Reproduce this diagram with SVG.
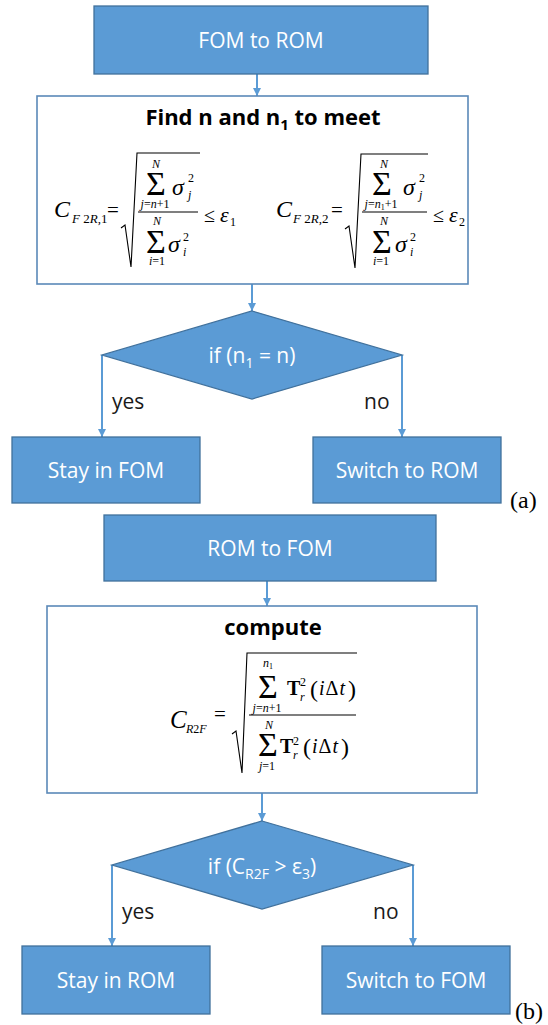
<svg xmlns="http://www.w3.org/2000/svg" width="548" height="1025" viewBox="0 0 548 1025">
  <defs>
    <marker id="ah" markerUnits="userSpaceOnUse" markerWidth="9" markerHeight="8" refX="8" refY="4" orient="auto">
      <path d="M0,0 L8,4 L0,8 z" fill="#5B9BD5"/>
    </marker>
    <style>
      .box { fill: #5B9BD5; stroke: #41719C; stroke-width: 1.3; }
      .frame { fill: #ffffff; stroke: #5B89B8; stroke-width: 1.6; }
      .lbl { font-family: "Open Sans", "Liberation Sans", sans-serif; font-size: 21px; fill: #ffffff; text-anchor: middle; }
      .head { font-family: "Open Sans", "Liberation Sans", sans-serif; font-size: 22px; font-weight: bold; fill: #000000; text-anchor: middle; }
      .tag { font-family: "Open Sans", "Liberation Sans", sans-serif; font-size: 21px; fill: #1a1a1a; }
      .edge { stroke: #5B9BD5; stroke-width: 2; fill: none; }
      .arrow { marker-end: url(#ah); }
      .m { font-family: "Liberation Serif", "Times New Roman", serif; fill: #000000; }
      .it { font-style: italic; }
      .mid { text-anchor: middle; }
      .sum { font-family: "Liberation Serif", "Times New Roman", serif; font-size: 34px; text-anchor: middle; fill: #000000; }
      .rad { stroke: #000000; stroke-width: 1.1; fill: none; stroke-linejoin: miter; }
      .bar { stroke: #000000; stroke-width: 1.1; }
      .panel { font-family: "Liberation Serif", "Times New Roman", serif; font-size: 24px; fill: #000000; }
    </style>
  </defs>

  <!-- connectors -->
  <g id="connectors">
    <line class="edge arrow" x1="257" y1="74" x2="257" y2="96"/>
    <line class="edge arrow" x1="252" y1="284" x2="252" y2="311"/>
    <polyline class="edge arrow" points="102,355 102,437"/>
    <polyline class="edge arrow" points="402,355 402,437"/>
    <line class="edge arrow" x1="267" y1="581" x2="267" y2="606"/>
    <line class="edge arrow" x1="262" y1="793" x2="262" y2="821"/>
    <polyline class="edge arrow" points="112,865 112,946"/>
    <polyline class="edge arrow" points="413,865 413,946"/>
  </g>

  <!-- (a) full order model to reduced order model -->
  <g id="fom-to-rom">
    <rect class="box" x="94" y="6" width="334" height="68"/>
    <text class="lbl" x="261" y="48">FOM to ROM</text>
  </g>

  <g id="find-n">
    <rect class="frame" x="37" y="96" width="431" height="188"/>
    <text class="head" x="263" y="125">Find n and n<tspan font-size="15" dy="5">1</tspan><tspan dy="-5"> to meet</tspan></text>

    <!-- C_F2R,1 criterion -->
    <text class="m it" x="54" y="217" font-size="24">C</text>
    <text class="m" x="72" y="223" font-size="13"><tspan class="it">F</tspan> 2<tspan class="it">R</tspan>,1</text>
    <text class="m" x="107" y="217" font-size="21">=</text>
    <path class="rad" d="M121,228 L125,225 L131,267 L137,153 L200,153"/>
    <line class="bar" x1="138" y1="212" x2="198" y2="212"/>
    <text class="m it mid" x="156" y="168" font-size="12">N</text>
    <text class="sum" x="156" y="195">Σ</text>
    <text class="m it mid" x="155" y="208" font-size="12">j<tspan font-style="normal">=</tspan>n<tspan font-style="normal">+1</tspan></text>
    <text class="m it" x="172" y="195" font-size="24">σ</text>
    <text class="m" x="188" y="182" font-size="12">2</text>
    <text class="m it" x="188" y="199" font-size="12">j</text>
    <text class="m it mid" x="157" y="225" font-size="12">N</text>
    <text class="sum" x="156" y="253">Σ</text>
    <text class="m it mid" x="157" y="265" font-size="12">i<tspan font-style="normal">=1</tspan></text>
    <text class="m it" x="168" y="252" font-size="24">σ</text>
    <text class="m" x="183" y="241" font-size="12">2</text>
    <text class="m it" x="183" y="256" font-size="12">i</text>
    <text class="m" x="204" y="222" font-size="20">≤</text>
    <text class="m it" x="220" y="222" font-size="22">ε</text>
    <text class="m" x="230" y="226" font-size="12">1</text>

    <!-- C_F2R,2 criterion -->
    <text class="m it" x="276" y="217" font-size="24">C</text>
    <text class="m" x="293" y="223" font-size="13"><tspan class="it">F</tspan> 2<tspan class="it">R</tspan>,2</text>
    <text class="m" x="331" y="217" font-size="21">=</text>
    <path class="rad" d="M345,229 L349,226 L355,268 L361,154 L428,154"/>
    <line class="bar" x1="362" y1="212" x2="427" y2="212"/>
    <text class="m it mid" x="384" y="168" font-size="12">N</text>
    <text class="sum" x="382" y="195">Σ</text>
    <text class="m it mid" x="381" y="208" font-size="12">j<tspan font-style="normal">=</tspan>n<tspan font-style="normal" font-size="8" dy="2">1</tspan><tspan font-style="normal" dy="-2">+1</tspan></text>
    <text class="m it" x="403" y="195" font-size="24">σ</text>
    <text class="m" x="419" y="182" font-size="12">2</text>
    <text class="m it" x="419" y="199" font-size="12">j</text>
    <text class="m it mid" x="384" y="225" font-size="12">N</text>
    <text class="sum" x="382" y="253">Σ</text>
    <text class="m it mid" x="381" y="265" font-size="12">i<tspan font-style="normal">=1</tspan></text>
    <text class="m it" x="395" y="252" font-size="24">σ</text>
    <text class="m" x="410" y="241" font-size="12">2</text>
    <text class="m it" x="410" y="256" font-size="12">i</text>
    <text class="m" x="433" y="222" font-size="20">≤</text>
    <text class="m it" x="449" y="222" font-size="22">ε</text>
    <text class="m" x="459" y="226" font-size="12">2</text>
  </g>

  <g id="check-a">
    <polygon class="box" points="252,311 402,355 252,399 102,355"/>
    <text class="lbl" x="252" y="363" font-size="20">if (n<tspan font-size="14" dy="5">1</tspan><tspan dy="-5"> = n)</tspan></text>
  </g>
  <text class="tag" x="112" y="409">yes</text>
  <text class="tag" x="364" y="409">no</text>

  <g id="stay-fom">
    <rect class="box" x="12" y="437" width="188" height="66"/>
    <text class="lbl" x="106" y="478">Stay in FOM</text>
  </g>
  <g id="switch-rom">
    <rect class="box" x="313" y="437" width="188" height="66"/>
    <text class="lbl" x="407" y="478">Switch to ROM</text>
  </g>
  <text class="panel" x="510" y="508">(a)</text>

  <!-- (b) reduced order model back to full order model -->
  <g id="rom-to-fom">
    <rect class="box" x="104" y="515" width="332" height="66"/>
    <text class="lbl" x="270" y="556">ROM to FOM</text>
  </g>

  <g id="compute">
    <rect class="frame" x="47" y="606" width="430" height="187"/>
    <text class="head" x="273" y="635">compute</text>

    <text class="m it" x="170" y="728" font-size="25">C</text>
    <text class="m it" x="186" y="733" font-size="12">R<tspan font-style="normal">2</tspan>F</text>
    <text class="m" x="214" y="721" font-size="21">=</text>
    <path class="rad" d="M232,734 L236,731 L242,773 L247,653 L357,653"/>
    <line class="bar" x1="249" y1="715" x2="356" y2="715"/>

    <text class="m it" x="263" y="667" font-size="12">n<tspan font-style="normal" font-size="8" dy="2">1</tspan></text>
    <text class="sum" x="268" y="698">Σ</text>
    <text class="m it mid" x="267" y="712" font-size="12">j<tspan font-style="normal">=</tspan>n<tspan font-style="normal">+1</tspan></text>
    <text class="m" x="287" y="695" font-size="20" font-weight="bold">T</text>
    <text class="m" x="300" y="686" font-size="12">2</text>
    <text class="m it" x="300" y="701" font-size="12">r</text>
    <text class="m" x="310" y="697" font-size="24">(</text>
    <text class="m it" x="319" y="695" font-size="20">i<tspan font-style="normal" dx="1">Δ</tspan><tspan dx="1">t</tspan></text>
    <text class="m" x="348" y="697" font-size="24">)</text>

    <text class="m it mid" x="269" y="729" font-size="12">N</text>
    <text class="sum" x="268" y="756">Σ</text>
    <text class="m it mid" x="267" y="770" font-size="12">j<tspan font-style="normal">=1</tspan></text>
    <text class="m" x="280" y="753" font-size="20" font-weight="bold">T</text>
    <text class="m" x="293" y="745" font-size="12">2</text>
    <text class="m it" x="293" y="759" font-size="12">r</text>
    <text class="m" x="303" y="755" font-size="24">(</text>
    <text class="m it" x="312" y="753" font-size="20">i<tspan font-style="normal" dx="1">Δ</tspan><tspan dx="1">t</tspan></text>
    <text class="m" x="341" y="755" font-size="24">)</text>
  </g>

  <g id="check-b">
    <polygon class="box" points="262,821 413,865 262,909 112,865"/>
    <text class="lbl" x="262" y="874" font-size="20">if (C<tspan font-size="14" dy="5">R2F</tspan><tspan dy="-5"> &gt; ε</tspan><tspan font-size="14" dy="5">3</tspan><tspan dy="-5">)</tspan></text>
  </g>
  <text class="tag" x="122" y="919">yes</text>
  <text class="tag" x="373" y="919">no</text>

  <g id="stay-rom">
    <rect class="box" x="22" y="946" width="188" height="68"/>
    <text class="lbl" x="116" y="988">Stay in ROM</text>
  </g>
  <g id="switch-fom">
    <rect class="box" x="322" y="946" width="188" height="68"/>
    <text class="lbl" x="416" y="988">Switch to FOM</text>
  </g>
  <text class="panel" x="515" y="1019">(b)</text>
</svg>
